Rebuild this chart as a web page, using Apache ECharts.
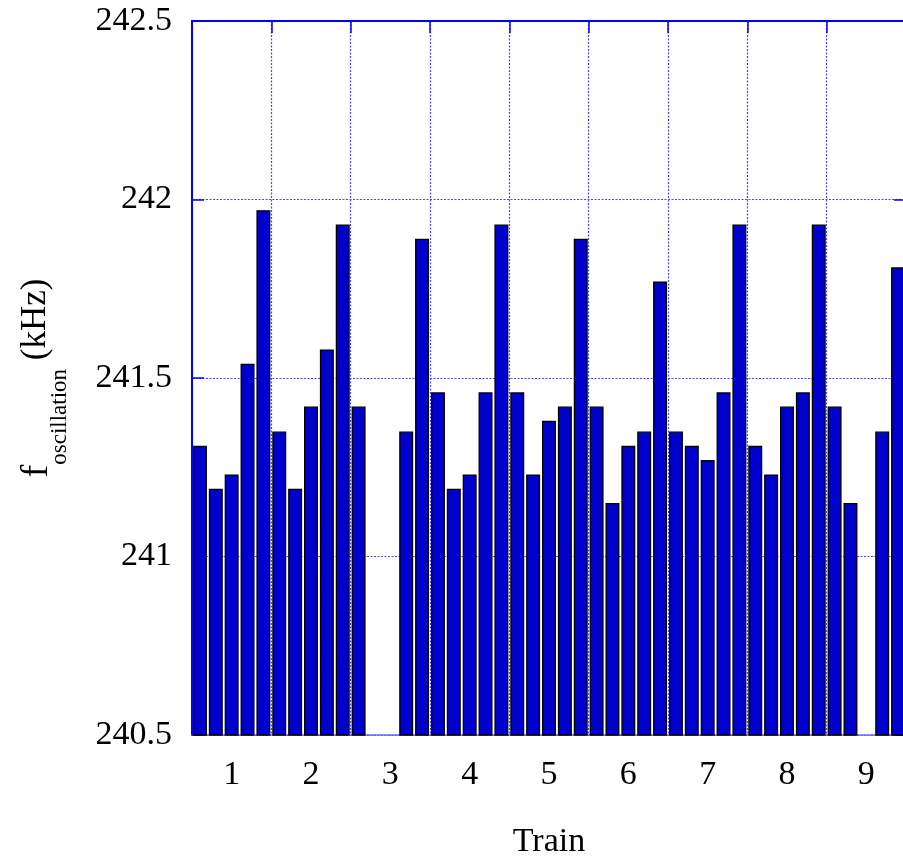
<!DOCTYPE html>
<html>
<head>
<meta charset="utf-8">
<script src="https://cdn.jsdelivr.net/npm/echarts@6/dist/echarts.min.js"></script>
<style>
html,body{margin:0;padding:0;background:#fff;overflow:hidden;}
#chart{width:903px;height:856px;}
</style>
</head>
<body>
<div id="chart"></div>
<script>
// Trains shown on the x axis
const trains = ['1','2','3','4','5','6','7','8','9'];
const bunchesPerTrain = 5;
// Oscillation frequency (kHz) per bunch, 5 bunches per train (null = no bunch)
const train1 = [241.31, 241.19, 241.23, 241.54, 241.97];
const train2 = [241.35, 241.19, 241.42, 241.58, 241.93];
const train3 = [241.42, null,   null,   241.35, 241.89];
const train4 = [241.46, 241.19, 241.23, 241.46, 241.93];
const train5 = [241.46, 241.23, 241.38, 241.42, 241.89];
const train6 = [241.42, 241.15, 241.31, 241.35, 241.77];
const train7 = [241.35, 241.31, 241.27, 241.46, 241.93];
const train8 = [241.31, 241.23, 241.42, 241.46, 241.93];
const train9 = [241.42, 241.15, null,   241.35, 241.81];
// y axis ticks
const yMin = 240.5, yMax = 242.5, yStep = 0.5;

const values = [].concat(train1, train2, train3, train4, train5, train6, train7, train8, train9);
const categories = values.map((v, i) => String(i + 1));

const blue = '#0000ff';
const gridColor = '#4848ff';
const font = '"Liberation Serif", "Times New Roman", serif';
const fs = 34;

const chart = echarts.init(document.getElementById('chart'));
chart.setOption({
  animation: false,
  backgroundColor: '#ffffff',
  grid: { left: 192, top: 21, width: 714, height: 714, containLabel: false, outerBoundsMode: 'none' },
  xAxis: [
    {
      type: 'category',
      data: categories,
      position: 'bottom',
      boundaryGap: true,
      name: 'Train',
      nameLocation: 'middle',
      nameGap: 90,
      nameTextStyle: { fontFamily: font, fontSize: fs, color: '#000' },
      axisLine: { show: true, lineStyle: { color: '#6a6aff', width: 1.5 } },
      axisTick: { show: false },
      splitLine: { show: false },
      axisLabel: {
        interval: (idx) => idx % bunchesPerTrain === 2,
        formatter: (val, idx) => trains[Math.floor(idx / bunchesPerTrain)],
        fontFamily: font, fontSize: fs, color: '#000', margin: 23
      }
    },
    {
      type: 'value',
      position: 'top',
      min: 0, max: trains.length, interval: 1,
      axisLine: { show: true, lineStyle: { color: blue, width: 2 } },
      axisTick: { show: true, inside: true, length: 12, lineStyle: { color: blue, width: 1.5 } },
      axisLabel: { show: false },
      splitLine: {
        show: true,
        lineStyle: { color: gridColor, width: 1.2, type: [2, 1.5] }
      }
    }
  ],
  yAxis: [
    {
      type: 'value',
      position: 'left',
      min: yMin, max: yMax, interval: yStep,
      name: '{f|f}{sub|oscillation}{sp| }{k|(kHz)}',
      nameLocation: 'middle',
      nameRotate: 90,
      nameGap: 121,
      nameTextStyle: {
        fontFamily: font, color: '#000',
        rich: {
          f: { fontFamily: font, fontSize: 38, color: '#000', lineHeight: 38, verticalAlign: 'top' },
          sub: { fontFamily: font, fontSize: 23, color: '#000', lineHeight: 23, verticalAlign: 'bottom' },
          sp: { fontFamily: font, fontSize: 35, color: '#000', lineHeight: 53, verticalAlign: 'top' },
          k: { fontFamily: font, fontSize: 35, color: '#000', lineHeight: 38, verticalAlign: 'top' }
        }
      },
      axisLine: { show: true, lineStyle: { color: blue, width: 2 } },
      axisTick: { show: true, inside: true, length: 12, lineStyle: { color: blue, width: 1.5 } },
      axisLabel: { fontFamily: font, fontSize: fs, color: '#000', margin: 20 },
      splitLine: { show: true, lineStyle: { color: gridColor, width: 1.2, type: [2, 1.5] } }
    },
    {
      type: 'value',
      position: 'right',
      min: yMin, max: yMax, interval: yStep,
      axisLine: { show: true, lineStyle: { color: blue, width: 2 } },
      axisTick: { show: true, inside: true, length: 12, lineStyle: { color: blue, width: 1.5 } },
      axisLabel: { show: false },
      splitLine: { show: false }
    }
  ],
  series: [
    {
      type: 'bar',
      xAxisIndex: 0,
      yAxisIndex: 0,
      data: values,
      barCategoryGap: '12%',
      itemStyle: { color: '#0000cc', borderColor: '#000000', borderWidth: 1.3 },
      z: 3
    }
  ]
});
</script>
</body>
</html>
